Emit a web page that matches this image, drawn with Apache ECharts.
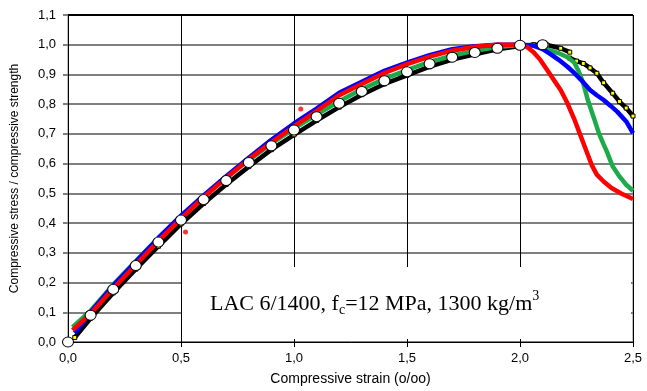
<!DOCTYPE html>
<html>
<head>
<meta charset="utf-8">
<script src="https://cdn.jsdelivr.net/npm/echarts@6/dist/echarts.min.js"></script>
<style>
html,body{margin:0;padding:0;background:#fff;}
#chart{width:647px;height:391px;}
</style>
</head>
<body>
<div id="chart"></div>
<script>
// ---- Data ----
var xTicks = [0, 0.5, 1.0, 1.5, 2.0, 2.5];
var yTicks = [0, 0.1, 0.2, 0.3, 0.4, 0.5, 0.6, 0.7, 0.8, 0.9, 1.0, 1.1];

var modelX = [0, 0.1, 0.2, 0.3, 0.4, 0.5, 0.6, 0.7, 0.8, 0.9, 1.0, 1.1, 1.2, 1.3, 1.4, 1.5, 1.6, 1.7, 1.8, 1.9, 2.0, 2.1];
var modelY = [0, 0.09, 0.177, 0.257, 0.336, 0.41, 0.479, 0.543, 0.604, 0.66, 0.713, 0.758, 0.803, 0.843, 0.879, 0.909, 0.936, 0.958, 0.974, 0.988, 0.998, 1.0];

var blackX = [0.03, 0.1, 0.2, 0.3, 0.4, 0.5, 0.6, 0.7, 0.8, 0.9, 1.0, 1.1, 1.2, 1.3, 1.4, 1.5, 1.6, 1.7, 1.8, 1.9, 2.0, 2.06, 2.12, 2.18, 2.22, null, 2.22, 2.25, 2.28, 2.31, 2.34, 2.37, 2.41, 2.44, 2.47, 2.5];
var blackY = [0.015, 0.08, 0.165, 0.245, 0.322, 0.397, 0.466, 0.53, 0.59, 0.647, 0.697, 0.745, 0.79, 0.832, 0.868, 0.897, 0.926, 0.95, 0.968, 0.985, 0.996, 1.0, 0.999, 0.988, 0.975, null, 0.955, 0.945, 0.937, 0.922, 0.904, 0.872, 0.837, 0.809, 0.787, 0.76];

var greenX = [0.02, 0.1, 0.2, 0.3, 0.4, 0.5, 0.6, 0.7, 0.8, 0.9, 1.0, 1.1, 1.2, 1.3, 1.4, 1.5, 1.6, 1.7, 1.8, 1.9, 2.0, 2.05, 2.1, 2.13, 2.17, 2.21, 2.24, 2.26, 2.28, 2.3, 2.325, 2.35, 2.37, 2.384, 2.41, 2.44, 2.47, 2.5];
var greenY = [0.05, 0.105, 0.193, 0.272, 0.35, 0.423, 0.49, 0.553, 0.612, 0.667, 0.718, 0.765, 0.81, 0.85, 0.885, 0.915, 0.942, 0.963, 0.98, 0.992, 0.999, 0.998, 0.99, 0.982, 0.972, 0.958, 0.94, 0.91, 0.87, 0.814, 0.758, 0.70, 0.665, 0.641, 0.591, 0.557, 0.529, 0.509];

var blueX = [0.03, 0.1, 0.2, 0.3, 0.4, 0.5, 0.6, 0.7, 0.8, 0.9, 1.0, 1.1, 1.2, 1.3, 1.4, 1.5, 1.6, 1.7, 1.8, 1.9, 2.0, 2.06, 2.1, 2.13, 2.17, 2.21, 2.24, 2.27, 2.31, 2.34, 2.37, 2.4, 2.43, 2.47, 2.5];
var blueY = [0.03, 0.10, 0.19, 0.27, 0.35, 0.425, 0.493, 0.558, 0.62, 0.68, 0.735, 0.785, 0.838, 0.875, 0.912, 0.94, 0.965, 0.985, 0.995, 1.0, 1.0, 0.997, 0.985, 0.971, 0.95, 0.926, 0.905, 0.882, 0.848, 0.83, 0.814, 0.795, 0.775, 0.742, 0.703];

var redX = [0.02, 0.1, 0.2, 0.3, 0.4, 0.5, 0.6, 0.7, 0.8, 0.9, 1.0, 1.1, 1.2, 1.3, 1.4, 1.5, 1.6, 1.7, 1.8, 1.9, 2.0, 2.03, 2.06, 2.09, 2.13, 2.16, 2.18, 2.21, 2.24, 2.265, 2.295, 2.317, 2.34, 2.37, 2.405, 2.45, 2.5];
var redY = [0.04, 0.095, 0.18, 0.26, 0.34, 0.415, 0.487, 0.552, 0.615, 0.672, 0.725, 0.777, 0.83, 0.868, 0.905, 0.935, 0.96, 0.98, 0.993, 1.0, 1.0, 0.993, 0.975, 0.949, 0.904, 0.87, 0.848, 0.803, 0.75, 0.70, 0.64, 0.596, 0.563, 0.54, 0.518, 0.499, 0.481];

var redOutX = [0.52, 1.03];
var redOutY = [0.37, 0.784];

var xTitle = "Compressive strain (o/oo)";
var yTitle = "Compressive stress / compressive strength";

function pairs(xs, ys) {
  var out = [];
  for (var i = 0; i < xs.length; i++) {
    out.push(xs[i] === null ? ['-', '-'] : [xs[i], ys[i]]);
  }
  return out;
}
function fmt(v) { return v.toFixed(1).replace('.', ','); }

var gridColors = [];
for (var i = 0; i < yTicks.length; i++) gridColors.push(i === yTicks.length - 1 ? '#000000' : '#7f7f7f');

var chart = echarts.init(document.getElementById('chart'), null, {renderer: 'canvas'});
chart.setOption({
  animation: false,
  backgroundColor: '#ffffff',
  grid: {left: 68, right: 14, top: 15, bottom: 48, show: true, borderColor: '#808080', borderWidth: 1, backgroundColor: 'transparent'},
  xAxis: {
    type: 'value', min: xTicks[0], max: xTicks[xTicks.length - 1], interval: 0.5,
    name: xTitle, nameLocation: 'middle', nameGap: 30,
    nameTextStyle: {fontFamily: 'Liberation Sans', fontSize: 14, color: '#000'},
    axisLine: {show: true, onZero: false, lineStyle: {color: '#000', width: 1}},
    axisTick: {show: true, inside: false, length: 5, lineStyle: {color: '#000'}},
    splitLine: {show: true, lineStyle: {color: '#000', width: 1}},
    axisLabel: {formatter: fmt, fontFamily: 'Liberation Sans', fontSize: 13, color: '#000', margin: 10}
  },
  yAxis: {
    type: 'value', min: yTicks[0], max: yTicks[yTicks.length - 1], interval: 0.1,
    name: yTitle, nameLocation: 'middle', nameGap: 47, nameRotate: 90,
    nameTextStyle: {fontFamily: 'Liberation Sans', fontSize: 12, color: '#000'},
    axisLine: {show: true, onZero: false, lineStyle: {color: '#000', width: 1}},
    axisTick: {show: true, inside: false, length: 5, lineStyle: {color: '#7f7f7f', width: 2}},
    splitLine: {show: true, lineStyle: {color: gridColors, width: 2}},
    axisLabel: {formatter: fmt, fontFamily: 'Liberation Sans', fontSize: 13, color: '#000', margin: 12}
  },
  graphic: [
    {type: 'rect', z: 100, shape: {x: 182, y: 267, width: 449, height: 72}, style: {fill: '#ffffff'}},
    {type: 'text', z: 101, left: 210, top: 289,
     style: {
       text: '{n|LAC 6/1400, f}{s|c}{n|=12 MPa, 1300 kg/m}{p|3}',
       rich: {
         n: {fontFamily: 'Liberation Serif', fontSize: 22, color: '#000', lineHeight: 26, verticalAlign: 'bottom'},
         s: {fontFamily: 'Liberation Serif', fontSize: 14, color: '#000', lineHeight: 26, verticalAlign: 'bottom', padding: [0, 0, -2, 0]},
         p: {fontFamily: 'Liberation Serif', fontSize: 14, color: '#000', lineHeight: 26, verticalAlign: 'top'}
       }
     }}
  ],
  series: [
    {type: 'line', name: 'black', data: pairs(blackX, blackY), z: 3, connectNulls: false,
     lineStyle: {color: '#000', width: 4.5}, itemStyle: {color: '#ffff00', borderColor: '#000', borderWidth: 1},
     symbol: 'rect', symbolSize: 4, showSymbol: true},
    {type: 'line', name: 'green', data: pairs(greenX, greenY), z: 4, symbol: 'none',
     lineStyle: {color: '#1daa4a', width: 4.5}},
    {type: 'line', name: 'blue', data: pairs(blueX, blueY), z: 5, symbol: 'none',
     lineStyle: {color: '#0000ff', width: 4.5}},
    {type: 'line', name: 'red', data: pairs(redX, redY), z: 6, symbol: 'none',
     lineStyle: {color: '#ff0000', width: 4.5}},
    {type: 'scatter', name: 'redOut', data: pairs(redOutX, redOutY), z: 6, symbol: 'circle', symbolSize: 5,
     itemStyle: {color: '#ff0000'}},
    {type: 'line', name: 'model', data: pairs(modelX, modelY), z: 10, symbol: 'circle', symbolSize: [11, 10],
     lineStyle: {width: 0, opacity: 0}, itemStyle: {color: '#ffffff', borderColor: '#000', borderWidth: 1}}
  ]
});
</script>
</body>
</html>
